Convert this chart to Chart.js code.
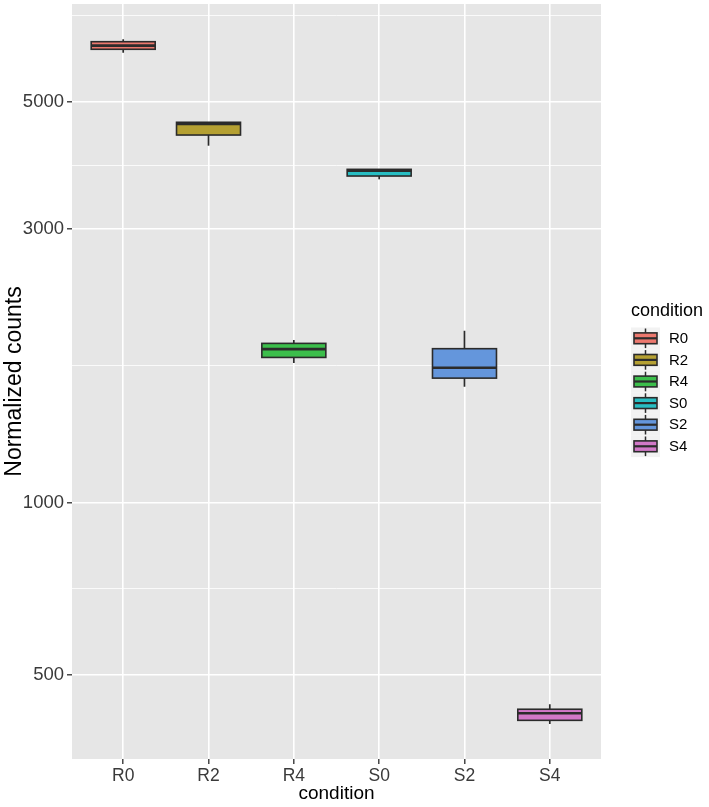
<!DOCTYPE html>
<html>
<head>
<meta charset="utf-8">
<script src="https://cdn.jsdelivr.net/npm/chart.js@4.4.1/dist/chart.umd.min.js"></script>
<style>
  html, body { margin: 0; padding: 0; background: #fff; }
  canvas { display: block; }
</style>
</head>
<body>
<canvas id="boxChart" width="709" height="807"></canvas>
<script>
// box statistics (log10 y axis)
const conditions = ['R0', 'R2', 'R4', 'S0', 'S2', 'S4'];
const whiskerLow = [6095, 4195, 1752, 3665, 1593, 411];
const quartileLow = [6180, 4379, 1792, 3714, 1649, 417];
const medians = [6271, 4577, 1853, 3793, 1719, 429];
const quartileHigh = [6371, 4609, 1896, 3815, 1856, 436];
const whiskerHigh = [6434, 4609, 1921, 3815, 1994, 445];
const yMajorTicks = [500, 1000, 3000, 5000];
const yMinorTicks = [707, 1732, 3873, 7071];

const fillColors = ['#EC786E', '#B5A032', '#3CBE4B', '#28BEC3', '#6496DC', '#D278C8'];
const lineColor = '#2B2B2B';
const fontFamily = '"Liberation Sans", Arial, sans-serif';

const panelBackground = {
    id: 'panelBackground',
    beforeDraw(chart) {
        const { ctx, chartArea: a } = chart;
        ctx.save();
        ctx.fillStyle = '#E6E6E6';
        ctx.fillRect(a.left, a.top, a.right - a.left, a.bottom - a.top);
        ctx.restore();
    }
};

// whiskers, box outline and median lines on top of the floating bars
const boxExtras = {
    id: 'boxExtras',
    afterDatasetsDraw(chart) {
        const ctx = chart.ctx;
        const y = chart.scales.y;
        const bars = chart.getDatasetMeta(0).data;
        ctx.save();
        ctx.strokeStyle = lineColor;
        bars.forEach((bar, i) => {
            const cx = bar.x;
            const half = bar.width / 2;
            const top = y.getPixelForValue(quartileHigh[i]);
            const bottom = y.getPixelForValue(quartileLow[i]);
            ctx.lineWidth = 1.7;
            ctx.beginPath();
            ctx.moveTo(cx, top);
            ctx.lineTo(cx, y.getPixelForValue(whiskerHigh[i]));
            ctx.moveTo(cx, bottom);
            ctx.lineTo(cx, y.getPixelForValue(whiskerLow[i]));
            ctx.stroke();
            ctx.lineWidth = 1.6;
            ctx.strokeRect(cx - half, top, half * 2, bottom - top);
            ctx.lineWidth = 2.6;
            ctx.beginPath();
            const my = y.getPixelForValue(medians[i]);
            ctx.moveTo(cx - half, my);
            ctx.lineTo(cx + half, my);
            ctx.stroke();
        });
        ctx.restore();
    }
};

const conditionLegend = {
    id: 'conditionLegend',
    afterDraw(chart) {
        const ctx = chart.ctx;
        const left = 631, keyW = 29, keyH = 21.6, top = 327.5;
        ctx.save();
        ctx.fillStyle = '#000';
        ctx.font = '18px ' + fontFamily;
        ctx.textBaseline = 'middle';
        ctx.fillText('condition', left, 311);
        conditions.forEach((name, i) => {
            const y0 = top + i * keyH;
            const cx = left + keyW / 2;
            ctx.fillStyle = '#F2F2F2';
            ctx.fillRect(left, y0, keyW, keyH);
            ctx.strokeStyle = lineColor;
            ctx.lineWidth = 1.5;
            ctx.beginPath();
            ctx.moveTo(cx, y0 + 1);
            ctx.lineTo(cx, y0 + keyH - 1);
            ctx.stroke();
            ctx.fillStyle = fillColors[i];
            ctx.fillRect(cx - 11.5, y0 + keyH * 0.25, 23, keyH * 0.5);
            ctx.lineWidth = 1.6;
            ctx.strokeRect(cx - 11.5, y0 + keyH * 0.25, 23, keyH * 0.5);
            ctx.lineWidth = 2.2;
            ctx.beginPath();
            ctx.moveTo(cx - 11.5, y0 + keyH / 2);
            ctx.lineTo(cx + 11.5, y0 + keyH / 2);
            ctx.stroke();
            ctx.fillStyle = '#000';
            ctx.font = '15px ' + fontFamily;
            ctx.fillText(name, left + 38, y0 + keyH / 2 + 0.5);
        });
        ctx.restore();
    }
};

new Chart(document.getElementById('boxChart'), {
    type: 'bar',
    data: {
        datasets: [{
            data: conditions.map((c, i) => ({ x: i, y: [quartileLow[i], quartileHigh[i]] })),
            backgroundColor: fillColors,
            borderWidth: 0,
            barPercentage: 0.75,
            categoryPercentage: 1
        }]
    },
    options: {
        responsive: false,
        animation: false,
        layout: { padding: { top: 4, right: 108, left: 0, bottom: 0 } },
        plugins: {
            legend: { display: false },
            tooltip: { enabled: false }
        },
        scales: {
            x: {
                type: 'linear',
                min: -0.6,
                max: 5.6,
                offset: false,
                afterBuildTicks: scale => {
                    scale.ticks = conditions.map((c, i) => ({ value: i }));
                },
                afterFit: scale => {
                    scale.height = 48;
                    scale.paddingLeft = 0;
                    scale.paddingRight = 0;
                },
                border: { display: false },
                grid: { offset: false, color: '#FFFFFF', lineWidth: 1.6, tickColor: lineColor, tickLength: 5, tickWidth: 1.3 },
                ticks: {
                    autoSkip: false,
                    maxRotation: 0,
                    padding: 2,
                    color: '#3A3A3A',
                    font: { family: fontFamily, size: 17.5 },
                    callback: v => conditions[v]
                },
                title: {
                    display: true,
                    text: 'condition',
                    color: '#000',
                    padding: { top: 0, bottom: 2 },
                    font: { family: fontFamily, size: 19 }
                }
            },
            y: {
                type: 'logarithmic',
                min: 357,
                max: 7413,
                afterBuildTicks: scale => {
                    scale.ticks = yMajorTicks.concat(yMinorTicks).sort((a, b) => a - b).map(v => ({ value: v }));
                },
                afterFit: scale => {
                    scale.width = 72;
                    scale.paddingTop = 0;
                    scale.paddingBottom = 0;
                },
                border: { display: false },
                grid: {
                    color: '#FFFFFF',
                    lineWidth: c => yMajorTicks.includes(c.tick.value) ? 1.6 : 0.8,
                    tickColor: c => yMajorTicks.includes(c.tick.value) ? lineColor : 'rgba(0,0,0,0)',
                    tickLength: 5,
                    tickWidth: 1.3
                },
                ticks: {
                    autoSkip: false,
                    padding: 3,
                    color: '#3A3A3A',
                    font: { family: fontFamily, size: 18.5 },
                    callback: v => yMajorTicks.includes(v) ? String(v) : ''
                },
                title: {
                    display: true,
                    text: 'Normalized counts',
                    color: '#000',
                    padding: { top: 1, bottom: 0 },
                    font: { family: fontFamily, size: 23 }
                }
            }
        }
    },
    plugins: [panelBackground, boxExtras, conditionLegend]
});
</script>
</body>
</html>
